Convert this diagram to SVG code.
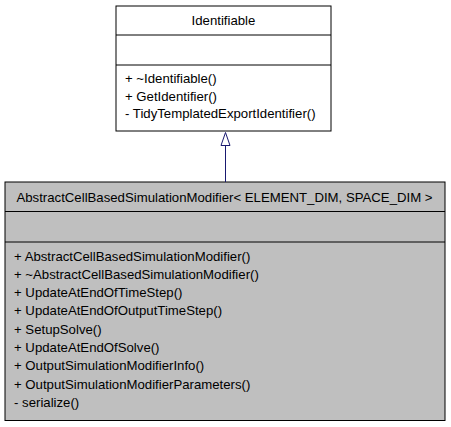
<svg xmlns="http://www.w3.org/2000/svg" width="451" height="427" viewBox="0 0 451 427">
<style>
text{font-family:"Liberation Sans",Arial,sans-serif;font-size:13.2px;fill:#000}
.box{stroke:#000;stroke-width:1}
.c{text-anchor:middle}
</style>
<rect width="451" height="427" fill="#fff"/>
<g id="Identifiable">
<rect class="box" x="116" y="6" width="215" height="125" fill="#fff"/>
<line class="box" x1="116" y1="35" x2="331" y2="35"/>
<line class="box" x1="116" y1="65" x2="331" y2="65"/>
<text class="c" x="223.5" y="24.5">Identifiable</text>
<text x="125" y="83">+ ~Identifiable()</text>
<text x="125" y="100.5">+ GetIdentifier()</text>
<text x="125" y="118">- TidyTemplatedExportIdentifier()</text>
</g>
<g id="AbstractCellBasedSimulationModifier">
<rect class="box" x="5" y="182" width="440" height="238.5" fill="#bfbfbf"/>
<line class="box" x1="5" y1="211.5" x2="445" y2="211.5"/>
<line class="box" x1="5" y1="242" x2="445" y2="242"/>
<text class="c" x="224.5" y="201.5">AbstractCellBasedSimulationModifier&lt; ELEMENT_DIM, SPACE_DIM &gt;</text>
<text x="14" y="260.5">+ AbstractCellBasedSimulationModifier()</text>
<text x="14" y="278.8">+ ~AbstractCellBasedSimulationModifier()</text>
<text x="14" y="297.1">+ UpdateAtEndOfTimeStep()</text>
<text x="14" y="315.4">+ UpdateAtEndOfOutputTimeStep()</text>
<text x="14" y="333.7">+ SetupSolve()</text>
<text x="14" y="352">+ UpdateAtEndOfSolve()</text>
<text x="14" y="370.3">+ OutputSimulationModifierInfo()</text>
<text x="14" y="388.6">+ OutputSimulationModifierParameters()</text>
<text x="14" y="406.9">- serialize()</text>
</g>
<g id="connectors">
<line x1="225.5" y1="145.5" x2="225.5" y2="182" stroke="#191970" stroke-width="1"/>
<polygon points="225.5,132.5 221,145.5 230,145.5" fill="#fff" stroke="#191970" stroke-width="1"/>
</g>
</svg>
